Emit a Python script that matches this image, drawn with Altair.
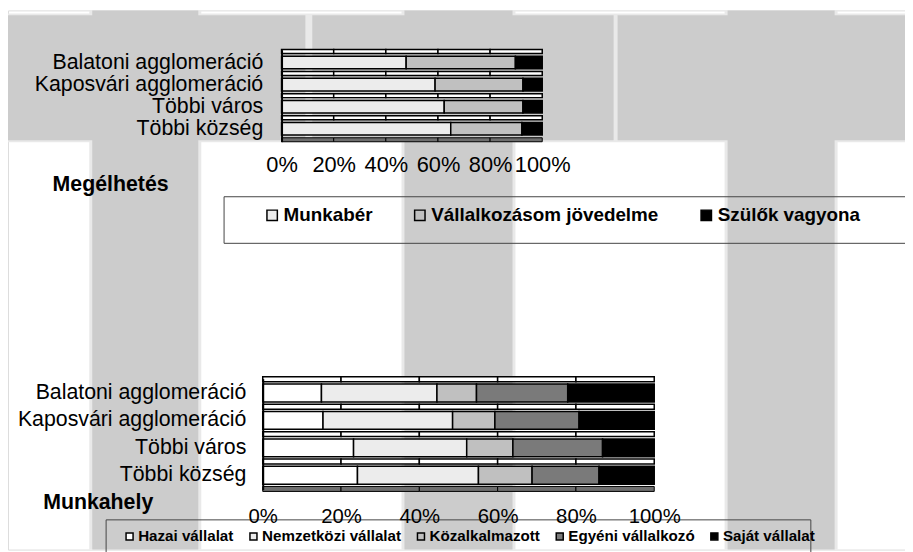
import altair as alt
import pandas as pd

# ---------------- data ----------------
categories = ["Balatoni agglomeráció", "Kaposvári agglomeráció", "Többi város", "Többi község"]

meg_series = ["Munkabér", "Vállalkozásom jövedelme", "Szülők vagyona"]
munkaber = [47.8, 58.9, 62.4, 64.9]
vallalkozasom = [41.9, 33.7, 30.2, 27.3]
szulok = [10.3, 7.4, 7.4, 7.8]

mh_series = ["Hazai vállalat", "Nemzetközi vállalat", "Közalkalmazott", "Egyéni vállalkozó", "Saját vállalat"]
hazai = [15.0, 15.4, 23.2, 24.2]
nemzetkozi = [29.5, 33.1, 28.9, 30.9]
kozalkalmazott = [10.1, 10.8, 11.8, 13.7]
egyeni = [23.3, 21.5, 22.9, 17.1]
sajat = [22.1, 19.2, 13.2, 14.1]

tick_values = [0, 0.2, 0.4, 0.6, 0.8, 1.0]

meg_title = "Megélhetés"
mh_title = "Munkahely"

meg_colors = ["#ececec", "#c0c0c0", "#000000"]
mh_colors = ["#ffffff", "#ececec", "#c0c0c0", "#7a7a7a", "#000000"]

FONT = "Liberation Sans"


def long_df(series, values):
    rows = []
    for si, (s, vals) in enumerate(zip(series, values)):
        for c, v in zip(categories, vals):
            rows.append({"cat": c, "series": s, "idx": si, "value": v})
    return pd.DataFrame(rows)


def strip_df():
    rows = []
    for c in categories:
        for a, b in zip(tick_values[:-1], tick_values[1:]):
            rows.append({"cat": c, "x0": a, "x1": b})
    return pd.DataFrame(rows)


W, H = 905, 544


def panel(df, series, colors, xr, yr, pin, pout, strip_h, title, title_x, title_y,
          label_size, tick_size, lab_pad, tick_pad, legend):
    step = (yr[1] - yr[0]) / (len(categories) - pin + 2 * pout)
    xs = alt.Scale(domain=[0, 1], range=xr, nice=False, zero=False)
    ys = alt.Scale(domain=categories, range=yr, paddingInner=pin, paddingOuter=pout)
    x_axis = alt.Axis(orient="bottom", offset=yr[1] - H, values=tick_values,
                      format=".0%", labelFontSize=tick_size, labelPadding=tick_pad,
                      ticks=False, domain=False, grid=False, title=None,
                      labelOverlap=False, labelFlush=False, labelColor="black",
                      zindex=1)
    y_axis = alt.Axis(orient="left", offset=-xr[0], title=title, titleAngle=0,
                      titleAlign="center", titleBaseline="middle",
                      titleX=title_x - xr[0], titleY=title_y,
                      titleFontSize=21.5, titleFontWeight="bold", titleColor="black",
                      labelFontSize=label_size, labelPadding=lab_pad, ticks=False,
                      domainColor="black", domainWidth=2, labelColor="black",
                      grid=False, zindex=1, labelLimit=400)
    sdf = strip_df()
    strips = alt.Chart(sdf).mark_bar(
        height=strip_h, yOffset=-step / 2, fill="white", stroke="black", strokeWidth=1.5
    ).encode(
        x=alt.X("x0:Q", scale=xs, axis=x_axis),
        x2="x1:Q",
        y=alt.Y("cat:N", scale=ys, sort=categories, axis=y_axis),
    )
    floor = alt.Chart(sdf[sdf["cat"] == categories[-1]]).mark_bar(
        height=strip_h, yOffset=step / 2, fill="#6e6e6e", stroke="black", strokeWidth=1
    ).encode(
        x=alt.X("x0:Q", scale=xs, axis=x_axis),
        x2="x1:Q",
        y=alt.Y("cat:N", scale=ys, sort=categories, axis=y_axis),
    )
    bars = alt.Chart(df).mark_bar(stroke="black", strokeWidth=1.5).encode(
        x=alt.X("value:Q", stack="normalize", scale=xs, axis=x_axis),
        y=alt.Y("cat:N", sort=categories, scale=ys, axis=y_axis),
        color=alt.Color("series:N", scale=alt.Scale(domain=series, range=colors),
                        legend=legend),
        order=alt.Order("idx:Q"),
    )
    return alt.layer(strips, floor, bars)


def bg_rect(x, x2, y, y2, **kw):
    return alt.Chart(pd.DataFrame({"k": [0]})).mark_rect(**kw).encode(
        x=alt.value(x), x2=alt.value(x2), y=alt.value(y), y2=alt.value(y2))


bgc = "#cccccc"
edge = "#e9e9e9"
background = [
    bg_rect(82, 195, 0, H, color=edge),
    bg_rect(397, 512, 0, H, color=edge),
    bg_rect(723, 837, 0, H, color=edge),
    bg_rect(0, W, 3, 133, color=edge),
    bg_rect(85, 192, 0, H, color=bgc),
    bg_rect(400, 509, 0, H, color=bgc),
    bg_rect(726, 834, 0, H, color=bgc),
    bg_rect(0, 300, 5, 131, color=bgc),
    bg_rect(307, 611, 5, 131, color=bgc),
    bg_rect(615, W, 5, 131, color=bgc),
    bg_rect(218, W + 10, 188, 235, fill=None, stroke="#444444", strokeWidth=1),
    bg_rect(99, 810, 514, H + 10, fill=None, stroke="#444444", strokeWidth=1),
]

leg_top = alt.Legend(orient="none", legendX=257, legendY=197, direction="horizontal",
                     title=None, labelFontSize=19, labelFontWeight="bold",
                     labelColor="black", symbolType="square", symbolSize=110,
                     symbolStrokeColor="black", symbolStrokeWidth=1.5,
                     columnPadding=38, labelOffset=2, labelLimit=400, padding=0)
leg_bot = alt.Legend(orient="none", legendX=115, legendY=523, direction="horizontal",
                     title=None, labelFontSize=15.3, labelFontWeight="bold",
                     labelColor="black", symbolType="square", symbolSize=50,
                     symbolStrokeColor="black", symbolStrokeWidth=1.5,
                     columnPadding=12, labelOffset=1, labelLimit=400, padding=0)

top = panel(long_df(meg_series, [munkaber, vallalkozasom, szulok]), meg_series, meg_colors,
            [276, 539], [39.6, 132.4], 0.43, 0.3, 4, meg_title, 103, 175.3,
            21.5, 22, 19, 13, leg_top)
bottom = panel(long_df(mh_series, [hazai, nemzetkozi, kozalkalmazott, egyeni, sajat]),
               mh_series, mh_colors, [257, 652], [371.5, 483.5], 0.35, 0.2, 5,
               mh_title, 90.5, 497, 21.5, 20.5, 17, 17, leg_bot)

chart = alt.layer(*background, top, bottom).resolve_scale(
    x="independent", y="independent", color="independent"
).properties(
    width=W, height=H, autosize=alt.AutoSizeParams(type="none"), padding=0
).configure_view(stroke=None).configure(font=FONT)

chart.save("out.html", embed_options={"renderer": "svg", "actions": False})
